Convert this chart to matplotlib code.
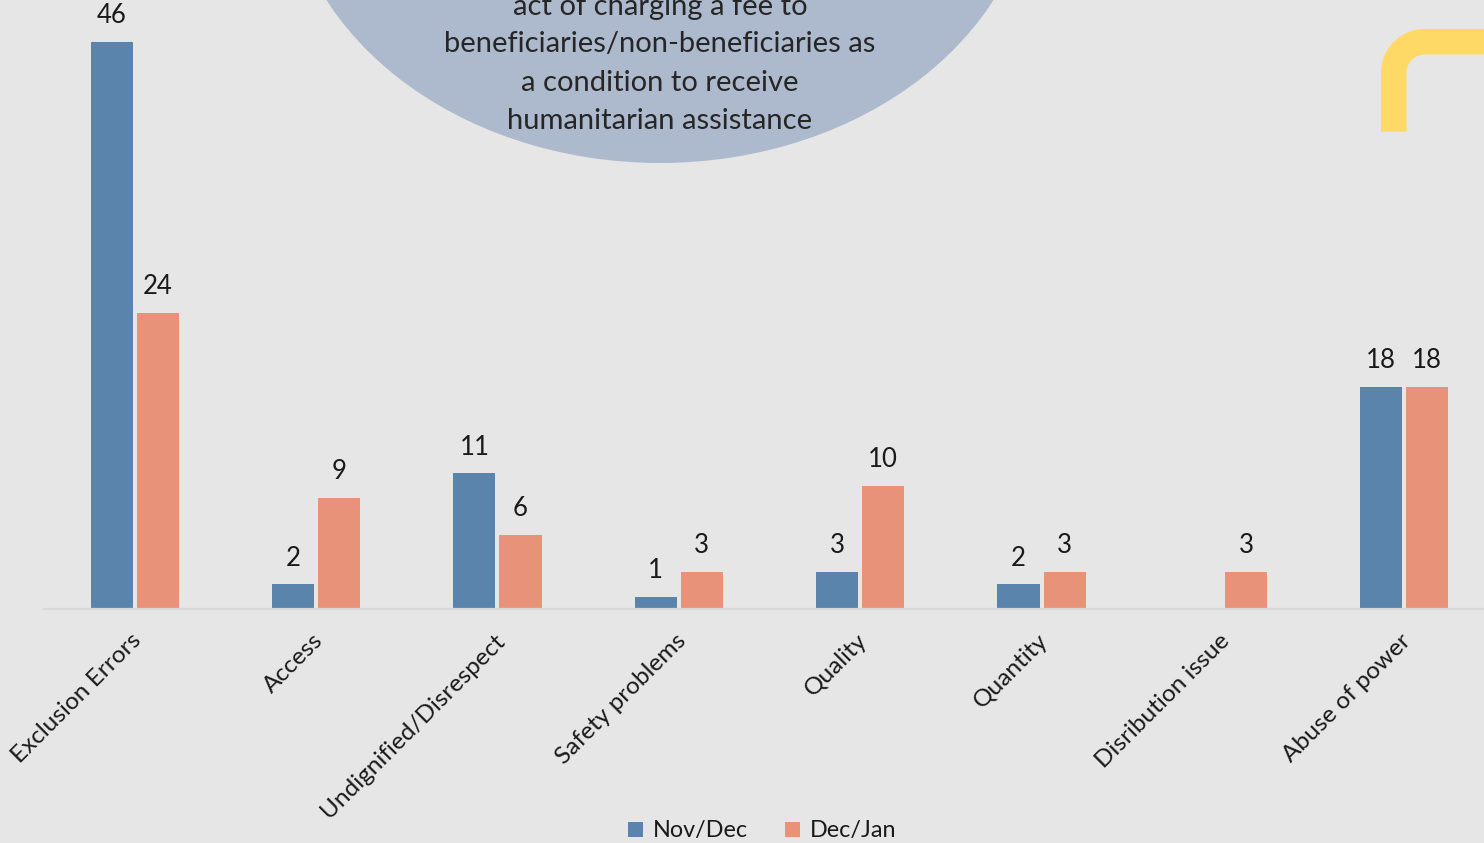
import numpy as np
import matplotlib
matplotlib.use("Agg")
import matplotlib.pyplot as plt
from matplotlib.patches import Ellipse, Patch
from matplotlib.lines import Line2D
import matplotlib.transforms as mtransforms

plt.rcParams['font.family'] = ['Lato', 'DejaVu Sans']

categories = ["Exclusion Errors", "Access", "Undignified/Disrespect", "Safety problems",
              "Quality", "Quantity", "Disribution issue", "Abuse of power"]
nov_dec = [46, 2, 11, 1, 3, 2, 0, 18]
dec_jan = [24, 9, 6, 3, 10, 3, 3, 18]
series_names = ["Nov/Dec", "Dec/Jan"]

note_lines = ["act of charging a fee to",
              "beneficiaries/non-beneficiaries as",
              "a condition to receive",
              "humanitarian assistance"]

BG = "#e6e6e6"
BLUE = "#5b84ad"
SALMON = "#e8927a"
TXT = "#1a1a1a"

W, H = 1484, 843
fig = plt.figure(figsize=(W / 100, H / 100), dpi=100, facecolor=BG)


def fx(px):
    return px / W


def fy(py):
    return 1 - py / H


# big ellipse callout at the top, mostly above the canvas
ell = Ellipse((fx(660), fy(-137)), 750 / W, 600 / H, transform=fig.transFigure,
              facecolor="#adb9cc", edgecolor="none", zorder=0)
fig.patches.append(ell)
for line, yy in zip(note_lines, [7, 44, 83, 121]):
    fig.text(fx(660), fy(yy), line, ha="center", va="center", fontsize=21, color="#262626")

# yellow corner bracket, top right
t = np.linspace(np.pi, 1.5 * np.pi, 30)
r = 31
cx, cy = 1393.75 + r, 41.75 + r
xs = np.concatenate([[1393.75], cx + r * np.cos(t), [1500]])
ys = np.concatenate([[131.7], cy + r * np.sin(t), [41.75]])
fig.add_artist(Line2D(fx(xs), fy(ys), transform=fig.transFigure, color="#ffd966",
                      lw=18.4, solid_capstyle="butt", solid_joinstyle="round"))

ax = fig.add_axes([fx(44), fy(609), (1495 - 44) / W, 609 / H])
ax.set_facecolor("none")

x = np.arange(len(categories))
bw = 0.232
off = 0.127
b1 = ax.bar(x - off, nov_dec, bw, color=BLUE, zorder=2)
b2 = ax.bar(x + off, dec_jan, bw, color=SALMON, zorder=2)

for bars, vals in [(b1, nov_dec), (b2, dec_jan)]:
    for rect, v in zip(bars, vals):
        if v == 0:
            continue
        ax.annotate(str(v), (rect.get_x() + rect.get_width() / 2, v),
                    xytext=(0, 13.5), textcoords="offset points",
                    ha="center", va="baseline", fontsize=18.5, color=TXT)

ax.set_xlim(-0.5, len(categories) - 0.5)
ax.set_ylim(0, 609 / 12.326)
for s in ["top", "left", "right"]:
    ax.spines[s].set_visible(False)
ax.spines["bottom"].set_color("#d9d9d9")
ax.spines["bottom"].set_linewidth(1.6)
ax.set_yticks([])
ax.set_xticks(x)
ax.set_xticklabels(categories, rotation=45, ha="right", fontsize=17.6, color=TXT)
ax.tick_params(axis="x", length=0, pad=15)
shift = mtransforms.ScaledTranslation(11 / 100, 0, fig.dpi_scale_trans)
for lab in ax.get_xticklabels():
    lab.set_transform(lab.get_transform() + shift)

handles = [Patch(facecolor=BLUE), Patch(facecolor=SALMON)]
fig.legend(handles, series_names, loc="center", bbox_to_anchor=(fx(762), fy(831)),
           ncol=2, frameon=False, fontsize=16.8, handlelength=0.65, handleheight=0.65,
           handletextpad=0.4, columnspacing=1.6, labelcolor=TXT)

fig.savefig("out.png", dpi=100, facecolor=BG)
